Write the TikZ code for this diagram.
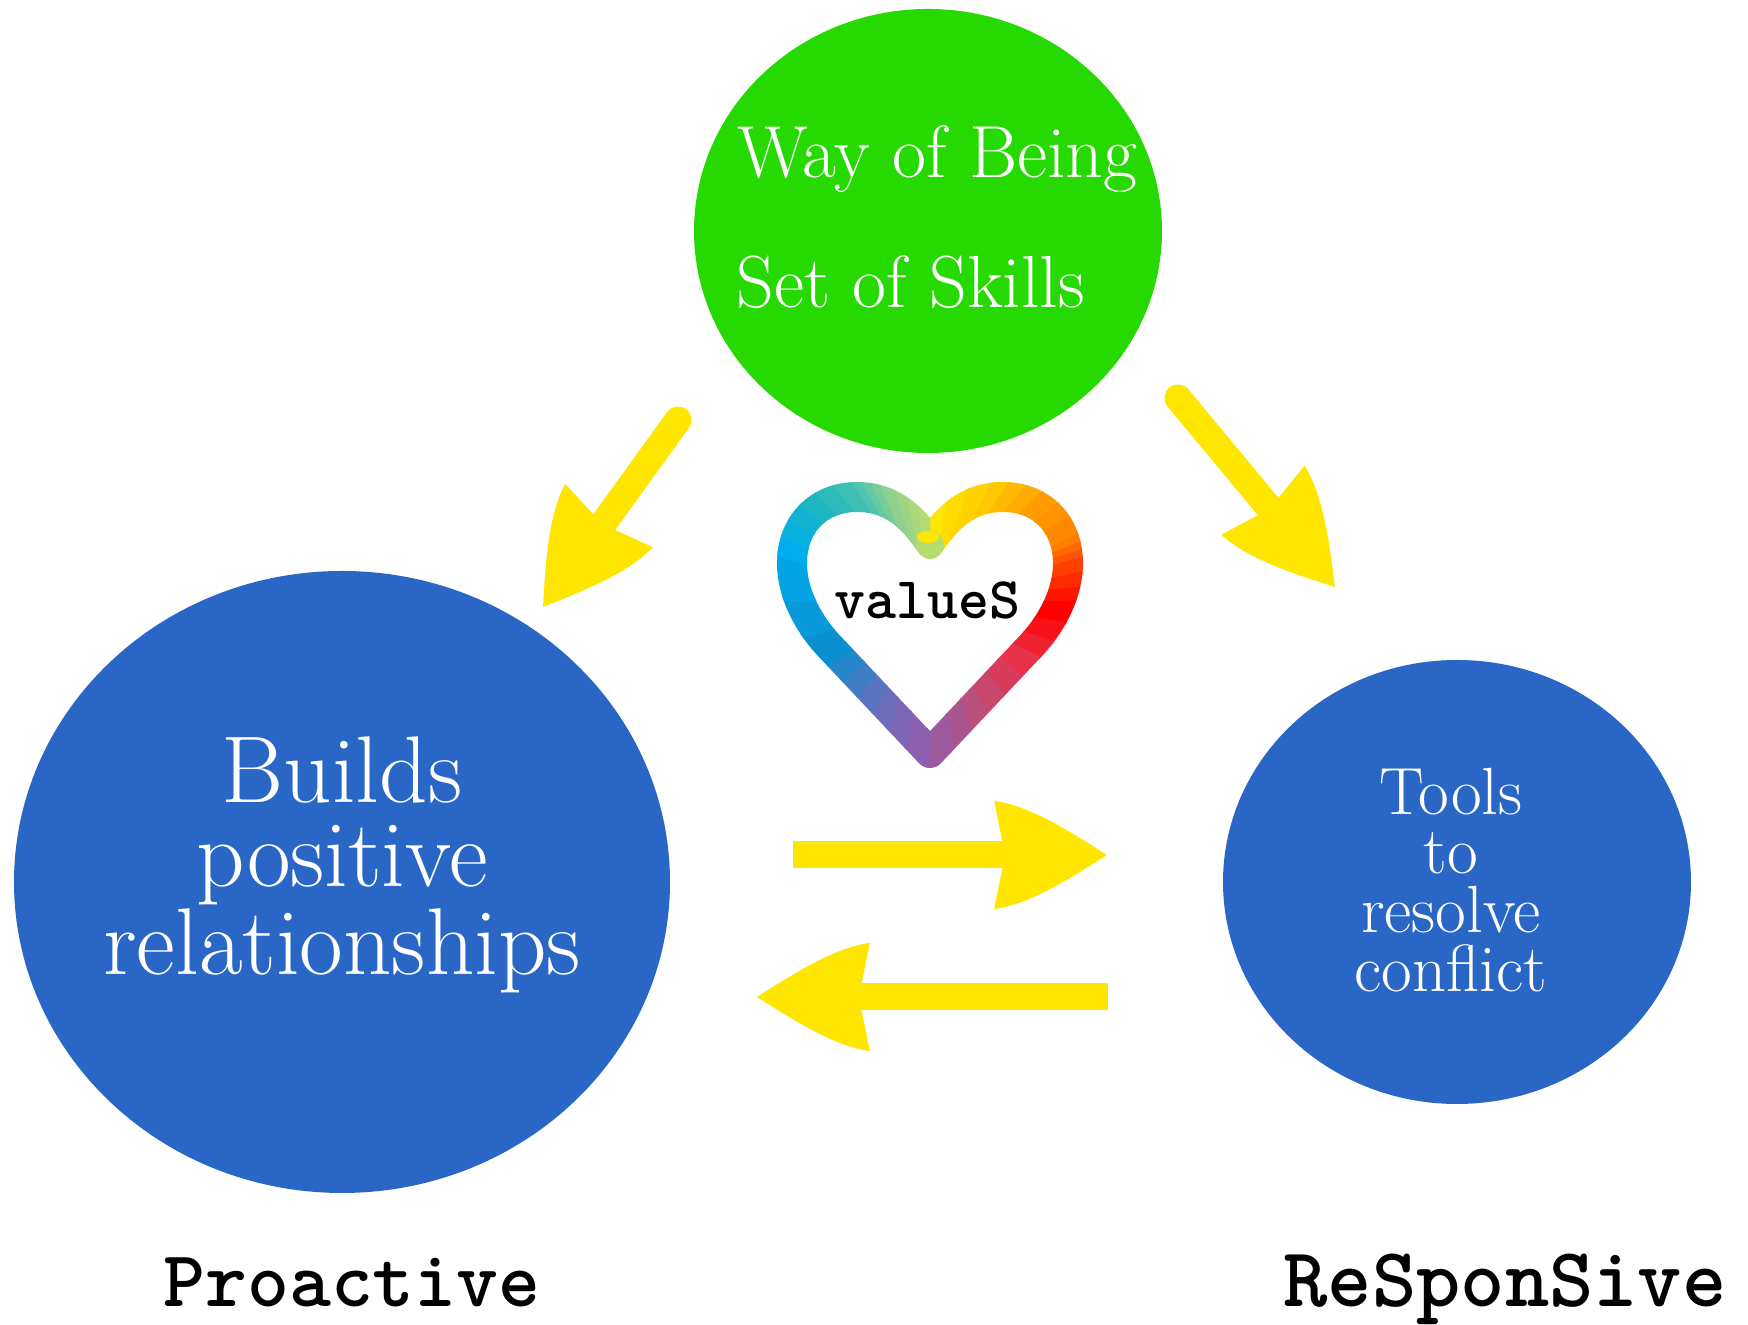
\documentclass[tikz,border=0pt]{standalone}
\usepackage{fontspec}
\usepackage{tikz}
\usetikzlibrary{shapes.geometric}
\definecolor{bubblegreen}{HTML}{26D900}
\definecolor{bubbleblue}{HTML}{2A66C6}
\definecolor{arrowyellow}{HTML}{FFE600}
\pgfdeclarearrow{
	name=leafhead,
	setup code={
		\pgfarrowssettipend{0pt}
		\pgfarrowssetbackend{-32.1pt}
		\pgfarrowssetlineend{-28pt}
		\pgfarrowssetvisualbackend{-28pt}
	},
	drawing code={
		\pgfpathmoveto{\pgfqpoint{0pt}{0pt}}
		\pgfpathcurveto{\pgfqpoint{-11pt}{7pt}}{\pgfqpoint{-22pt}{14pt}}{\pgfqpoint{-32.1pt}{15.4pt}}
		\pgfpathlineto{\pgfqpoint{-29pt}{0pt}}
		\pgfpathlineto{\pgfqpoint{-32.1pt}{-15.4pt}}
		\pgfpathcurveto{\pgfqpoint{-22pt}{-14pt}}{\pgfqpoint{-11pt}{-7pt}}{\pgfqpoint{0pt}{0pt}}
		\pgfusepathqfill
	}
}
\tikzset{
	bubble/.style={ellipse,inner sep=0pt,text=white},
	yarrow/.style={draw=arrowyellow,fill=arrowyellow,line width=0.27cm,-leafhead},
	heartband/.style={line width=0.3cm,line join=round},
	typed/.style={inner sep=0pt,anchor=base,font=\ttfamily\bfseries}
}
\newcommand{\heartline}{(9.30,7.82) .. controls (9.50,8.12) and (9.72,8.28) .. (10.03,8.28)
	.. controls (10.42,8.28) and (10.68,8.00) .. (10.68,7.62)
	.. controls (10.68,7.30) and (10.50,6.98) .. (10.27,6.75)
	-- (9.30,5.72) -- (8.33,6.75)
	.. controls (8.10,6.98) and (7.92,7.30) .. (7.92,7.62)
	.. controls (7.92,8.00) and (8.18,8.28) .. (8.57,8.28)
	.. controls (8.88,8.28) and (9.10,8.12) .. (9.30,7.82)}
\begin{document}
\begin{tikzpicture}
	\useasboundingbox (0,0) rectangle (17.48,13.25);
	% circles
	\node (being) at(9.28,10.94) [bubble,fill=bubblegreen,minimum width=4.68cm,minimum height=4.44cm]{};
	\node (builds) at(3.42,4.43) [bubble,fill=bubbleblue,minimum width=6.56cm,minimum height=6.22cm]{};
	\node (tools) at(14.57,4.43) [bubble,fill=bubbleblue,minimum width=4.68cm,minimum height=4.44cm]{};
	\node (way) at(7.37,11.47) [anchor=base west,inner sep=0pt,text=white,font=\fontsize{21}{25}\selectfont]{Way of Being};
	\node (skills) at(7.36,10.17) [anchor=base west,inner sep=0pt,text=white,font=\fontsize{21}{25}\selectfont]{Set of Skills};
	\node (buildstext) at(3.42,4.60) [align=center,inner sep=0pt,text=white,font=\fontsize{27}{23.8}\selectfont]{Builds\\positive\\relationships};
	\node (toolstext) at(14.51,4.45) [align=center,inner sep=0pt,text=white,font=\fontsize{19}{16.8}\selectfont]{Tools\\to\\resolve\\conflict};
	% heart
	\coordinate (hc) at(9.30,7.22);
	\foreach \s/\e/\ca/\cb in {90/63/FFE600/FFC800,63/45/FFC800/FF9D00,45/25/FF9D00/FF7D00,25/17/FF7D00/FF4000,
		17/1/FF4000/FF0000,1/-26/FF0000/E8324A,-26/-63/E8324A/B9507E,-63/-90/B9507E/8F5FB0,
		-90/-117/8F5FB0/5A75C0,-117/-148/5A75C0/0A8FD0,-148/-197/0A8FD0/00AEEF,-197/-217/00AEEF/1CB5C0,
		-217/-237/1CB5C0/4FC4AE,-237/-247/4FC4AE/8FD08E,-247/-263/8FD08E/B5DC70,-263/-270/B5DC70/B5DC70}{
		\definecolor{wa}{HTML}{\ca}
		\definecolor{wb}{HTML}{\cb}
		\foreach \i in {0,1,2}{
			\pgfmathsetmacro\from{\s+(\e-\s)*\i/3}
			\pgfmathsetmacro\to{\s+(\e-\s)*(\i+1.15)/3}
			\pgfmathsetmacro\mixed{100-\i*33}
			\begin{scope}
				\clip (hc) -- +(\from:4) -- +(\to:4) -- cycle;
				\draw [heartband,wa!\mixed!wb] \heartline;
			\end{scope}
		}
	}
	\fill [color={rgb,255:red,181;green,220;blue,112}] (9.30,7.80) circle(0.14);
	\fill [color=yellow!90!orange] (9.28,7.88) ellipse(0.11 and 0.06);
	\node (values) at(9.27,7.06) [typed,font=\ttfamily\bfseries\fontsize{16.8}{20}\selectfont]{valueS};
	% arrows
	\coordinate (lefttail) at(6.78,9.05);
	\coordinate (lefttip) at(5.43,7.18);
	\coordinate (righttail) at(11.78,9.27);
	\coordinate (righttip) at(13.35,7.38);
	\coordinate (overtail) at(7.93,4.70);
	\coordinate (overtip) at(11.07,4.70);
	\coordinate (backtail) at(11.08,3.28);
	\coordinate (backtip) at(7.57,3.28);
	\draw [yarrow,line cap=round] (lefttail)--(lefttip);
	\draw [yarrow,line cap=round] (righttail)--(righttip);
	\draw [yarrow] (overtail)--(overtip);
	\draw [yarrow] (backtail)--(backtip);
	% captions
	\node (proactive) at(3.52,0.18) [typed,font=\ttfamily\bfseries\fontsize{22.7}{27}\selectfont]{Proactive};
	\node (responsive) at(15.05,0.18) [typed,font=\ttfamily\bfseries\fontsize{24}{28}\selectfont]{ReSponSive};
\end{tikzpicture}
\end{document}
